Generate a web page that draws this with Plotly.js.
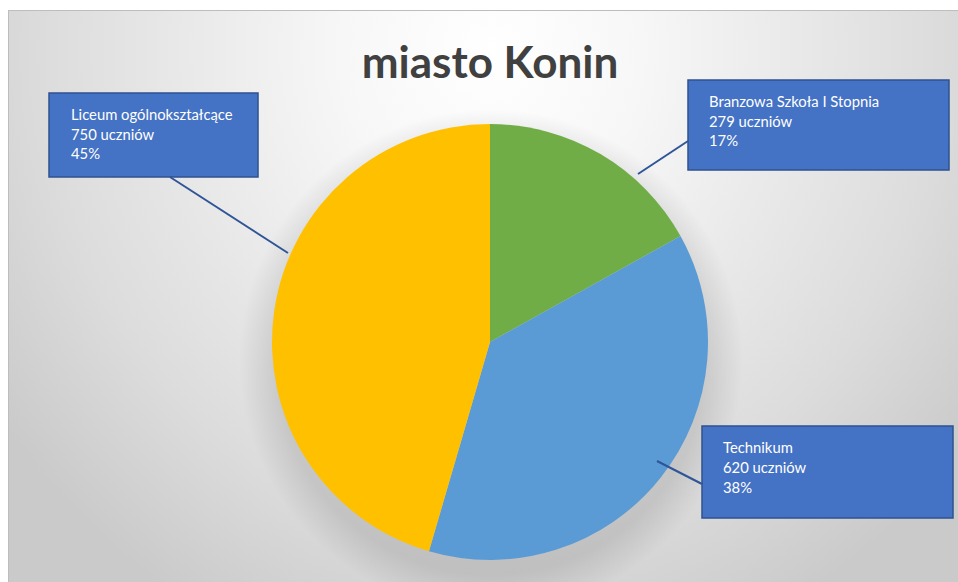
<!DOCTYPE html>
<html>
<head>
<meta charset="utf-8">
<script src="https://cdn.plot.ly/plotly-3.0.1.min.js"></script>
<style>
  html, body { margin: 0; padding: 0; background: #ffffff; }
  #wrap { position: relative; width: 958px; height: 582px; overflow: hidden; }
  #bg {
    position: absolute; left: 8px; top: 10px; width: 950px; height: 572px;
    border-top: 1px solid #bdbdbd; border-left: 1px solid #bdbdbd;
    background:
      radial-gradient(circle at 482px 350px, rgba(0,0,0,0.14) 0px, rgba(0,0,0,0.11) 214px, rgba(0,0,0,0.0) 252px),
      radial-gradient(ellipse 600px 640px at 482px 40px, #ffffff 0%, #f7f7f7 25%, #dcdcdc 75%, #cacaca 100%);
  }
  #chart { position: absolute; left: 0; top: 0; width: 958px; height: 582px; }
</style>
</head>
<body>
<div id="wrap">
  <div id="bg"></div>
  <div id="chart"></div>
</div>
<script>
// ---- data ----
const categories = ["Branzowa Szkoła I Stopnia", "Technikum", "Liceum ogólnokształcące"];
const values = [279, 620, 750];
const unitLabel = "uczniów";
const sliceColors = ["#70AD47", "#5B9BD5", "#FFC000"];
const chartTitle = "miasto Konin";

// ---- layout helpers (pixel positions of label boxes) ----
const W = 958, H = 582;
const px = x => x / W;
const py = y => 1 - y / H;

// label boxes [x0, y0, x1, y1], text left x, line centre ys
const boxes = [
  { rect: [688, 80, 949, 170], tx: 707, ly: [101, 121, 140], lead: [[638, 174], [688, 141]] },
  { rect: [702, 426, 953, 518], tx: 721, ly: [447, 467, 487], lead: [[657, 461], [702, 484]] },
  { rect: [49, 93, 258, 177], tx: 69, ly: [114, 134, 153], lead: [[170, 177], [288, 253]] }
];

const total = values.reduce((a, b) => a + b, 0);

const trace = {
  type: "pie",
  labels: categories,
  values: values,
  sort: false,
  direction: "clockwise",
  rotation: 0,
  textinfo: "none",
  hoverinfo: "label+value+percent",
  marker: { colors: sliceColors, line: { width: 0 } },
  domain: { x: [272 / W, 708 / W], y: [1 - 560 / H, 1 - 124 / H] },
  showlegend: false
};

const shapes = [];
const annotations = [];
categories.forEach((cat, i) => {
  const b = boxes[i];
  shapes.push({
    type: "rect", xref: "paper", yref: "paper",
    x0: px(b.rect[0]), x1: px(b.rect[2]), y0: py(b.rect[1]), y1: py(b.rect[3]),
    fillcolor: "#4472C4", line: { color: "#2F528F", width: 1.5 }, layer: "above"
  });
  shapes.push({
    type: "line", xref: "paper", yref: "paper",
    x0: px(b.lead[0][0]), y0: py(b.lead[0][1]), x1: px(b.lead[1][0]), y1: py(b.lead[1][1]),
    line: { color: "#2F5597", width: 2 }, layer: "above"
  });
  const pct = Math.round(values[i] / total * 100) + "%";
  const lines = [cat, values[i] + " " + unitLabel, pct];
  lines.forEach((t, k) => {
    annotations.push({
      xref: "paper", yref: "paper", x: px(b.tx), y: py(b.ly[k]),
      xanchor: "left", yanchor: "middle", showarrow: false, text: t,
      font: { family: "Lato, 'Open Sans', sans-serif", size: 14.8, color: "#ffffff" }
    });
  });
});

const layout = {
  width: W, height: H,
  margin: { l: 0, r: 0, t: 0, b: 0 },
  paper_bgcolor: "rgba(0,0,0,0)",
  plot_bgcolor: "rgba(0,0,0,0)",
  title: {
    text: "<b>" + chartTitle + "</b>",
    x: 490 / W, xanchor: "center", xref: "paper",
    y: 1 - 63 / H, yanchor: "middle", yref: "container",
    font: { family: "Lato, 'Open Sans', sans-serif", size: 44, color: "#404040" }
  },
  shapes: shapes,
  annotations: annotations
};

Plotly.newPlot("chart", [trace], layout, { displayModeBar: false, staticPlot: true });
</script>
</body>
</html>
